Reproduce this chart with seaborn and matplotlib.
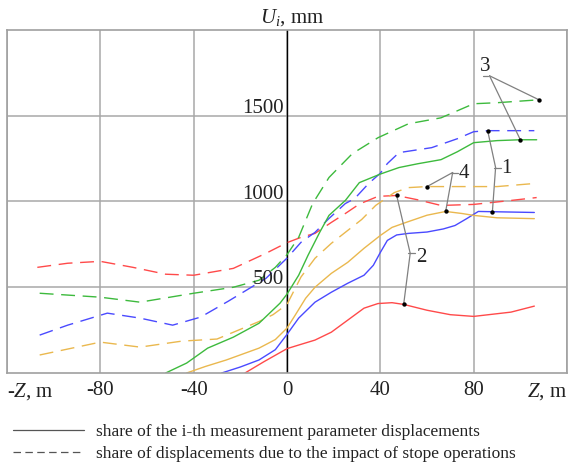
import numpy as np
import pandas as pd
import matplotlib
matplotlib.use("Agg")
import matplotlib.pyplot as plt
import seaborn as sns
from matplotlib.lines import Line2D

# ---------------- data ----------------
rd_x = [-107, -94, -80, -66, -52, -40, -23, -9, 0, 6, 12, 19, 25, 31, 39, 47, 56, 66, 80, 94, 107]
rd_y = [616, 640, 651, 616, 576, 570, 610, 698, 760, 791, 814, 878, 930, 985, 1030, 1035, 1010, 977, 983, 1003, 1023]

rs_x = [-18, -10, 0, 5, 12, 19, 26, 33, 39, 45, 50, 60, 70, 80, 96, 106]
rs_y = [0, 65, 142, 163, 192, 238, 308, 378, 405, 410, 400, 366, 340, 330, 355, 390]

bd_x = [-106, -94, -77, -63, -49, -37, -25, -9, 0, 6, 12, 18, 25, 29, 35, 40, 43, 48, 62, 73, 80, 86, 106]
bd_y = [221, 279, 349, 320, 279, 326, 420, 552, 670, 762, 820, 901, 988, 1017, 1105, 1165, 1221, 1285, 1314, 1366, 1407, 1413, 1413]

bs_x = [-28, -20, -12, -5, 0, 5, 12, 19, 26, 33, 37, 40, 43, 47, 52, 60, 67, 72, 77, 82, 90, 106]
bs_y = [0, 35, 76, 136, 225, 320, 413, 471, 523, 570, 628, 703, 773, 805, 814, 822, 840, 860, 900, 942, 940, 936]

yd_x = [-106, -80, -63, -45, -30, -12, -6, 0, 6, 12, 19, 26, 32, 38, 46, 52, 60, 75, 90, 106]
yd_y = [105, 180, 151, 186, 198, 300, 340, 400, 560, 669, 756, 831, 895, 977, 1052, 1081, 1087, 1087, 1087, 1105]

ys_x = [-43, -35, -26, -12, -5, 0, 3.5, 8, 12, 19, 26, 33, 40, 45, 51, 60, 68, 75, 80, 90, 106]
ys_y = [0, 38, 76, 145, 195, 262, 337, 436, 500, 581, 645, 727, 802, 849, 878, 920, 942, 930, 919, 905, 900]

gd_x = [-106, -80, -63, -40, -23, -12, -5, 0, 5, 11, 18, 28, 39, 52, 66, 80, 90, 108]
gd_y = [465, 442, 413, 465, 500, 541, 616, 690, 791, 988, 1140, 1279, 1372, 1453, 1488, 1570, 1576, 1593]

gs_x = [-52, -43, -34, -23, -12, -3, 0, 5, 9, 14, 18, 25, 31, 40, 48, 56, 66, 73, 80, 90, 100, 107]
gs_y = [0, 58, 145, 209, 290, 407, 460, 570, 686, 820, 919, 1006, 1110, 1160, 1198, 1220, 1244, 1290, 1343, 1355, 1360, 1360]

# annotation markers
ann_labels = ["1", "2", "3", "4"]
ann_m1_x = [86, 47, 108, 60]
ann_m1_y = [1413, 1035, 1593, 1087]
ann_m2_x = [88, 50, 100, 68]
ann_m2_y = [936, 400, 1360, 942]
# leader vertex and label positions
ann_vx = [89.4, 52.8, 86.8, 71.0]
ann_vy = [1198, 698, 1733, 1169]
ann_tx = [91.5, 55.0, 84.0, 73.2]
ann_lx = [93.8, 57.6, 84.8, 75.9]
ann_ly = [1192, 672, 1790, 1165]

x_ticks = [-120, -80, -40, 0, 40, 80, 120]
x_ticklabels = ["-$Z$, m", "-80", "-40", "0", "40", "80", "$Z$, m"]
y_ticks = [500, 1000, 1500]
y_ticklabels = ["500", "1000", "1500"]

legend_labels = ["share of the i-th measurement parameter displacements",
                 "share of displacements due to the impact of stope operations"]

# ---------------- styling ----------------
sns.set_style("white")
plt.rcParams['font.family'] = ['Liberation Serif', 'DejaVu Serif']
plt.rcParams['mathtext.fontset'] = 'custom'
plt.rcParams['mathtext.rm'] = 'Liberation Serif'
plt.rcParams['mathtext.it'] = 'Liberation Serif:italic'
plt.rcParams['text.color'] = '#222222'
plt.rcParams['xtick.color'] = '#222222'

RED = '#ff4a4a'
BLUE = '#4a4aff'
GREEN = '#3dba3d'
YELLOW = '#eab84e'
DASH = (0, (10, 5.5))

series = [
    ("rd", rd_x, rd_y, RED, DASH),
    ("rs", rs_x, rs_y, RED, '-'),
    ("bd", bd_x, bd_y, BLUE, DASH),
    ("bs", bs_x, bs_y, BLUE, '-'),
    ("yd", yd_x, yd_y, YELLOW, DASH),
    ("ys", ys_x, ys_y, YELLOW, '-'),
    ("gd", gd_x, gd_y, GREEN, DASH),
    ("gs", gs_x, gs_y, GREEN, '-'),
]

frames = []
for name, xs, ys, c, ls in series:
    frames.append(pd.DataFrame({"x": xs, "y": ys, "series": name}))
df = pd.concat(frames, ignore_index=True)

fig = plt.figure(figsize=(5.68, 4.63), dpi=100)
ax = fig.add_axes([7 / 568, 90 / 463, 560 / 568, 343 / 463])

ax.set_xlim(-120, 120)
ax.set_ylim(0, 2000)

ax.set_xticks(x_ticks)
ax.set_xticklabels(x_ticklabels)
ax.set_yticks(y_ticks)
ax.set_yticklabels([])
ax.grid(True, color='#a8a8a8', lw=1.1)
ax.set_axisbelow(True)
for sp in ax.spines.values():
    sp.set_color('#a0a0a0')
    sp.set_linewidth(1.2)
ax.tick_params(axis='both', length=0, labelsize=15, pad=6)
xl = ax.get_xticklabels()
xl[0].set_ha('left')
xl[-1].set_ha('right')

ax.axvline(0, color='black', lw=1.0, zorder=1.5)

for name, xs, ys, c, ls in series:
    sns.lineplot(data=df[df["series"] == name], x="x", y="y", ax=ax,
                 color=c, linestyle=ls, lw=1.0, estimator=None, sort=False)

ax.set_xlabel("")
ax.set_ylabel("")

for v, lab in zip(y_ticks, y_ticklabels):
    ax.annotate(lab, xy=(0, v), xytext=(-2.5, 2), textcoords='offset points',
                ha='right', va='baseline', fontsize=15)

ax.annotate("$U_i$, mm", xy=(0, 2000), xytext=(3.5, 9), textcoords='offset points',
            ha='center', va='center', fontsize=15, annotation_clip=False)

mk_x = []
mk_y = []
for i, lab in enumerate(ann_labels):
    for mx, my in ((ann_m1_x[i], ann_m1_y[i]), (ann_m2_x[i], ann_m2_y[i])):
        ax.plot([ann_vx[i], mx], [ann_vy[i], my], color='#808080', lw=0.9, zorder=3)
        mk_x.append(mx)
        mk_y.append(my)
    ax.plot([ann_vx[i] - 0.8, ann_tx[i]], [ann_vy[i], ann_vy[i]], color='#808080', lw=0.9, zorder=3)
    ax.text(ann_lx[i], ann_ly[i], lab, ha='center', va='center', fontsize=15, zorder=4)

sns.scatterplot(x=mk_x, y=mk_y, ax=ax, color='black', s=10, linewidth=0, zorder=5)

handles = [Line2D([], [], color='#555555', lw=0.9, linestyle='-'),
           Line2D([], [], color='#555555', lw=0.9, linestyle=(0, (6, 3.5)))]
fig.legend(handles, legend_labels, loc='upper left', bbox_to_anchor=(0.023, 0.084),
           frameon=False, fontsize=12.5, handlelength=4.1, handletextpad=0.7,
           labelspacing=0.3, borderaxespad=0, borderpad=0)

fig.savefig("out.png", dpi=100)
